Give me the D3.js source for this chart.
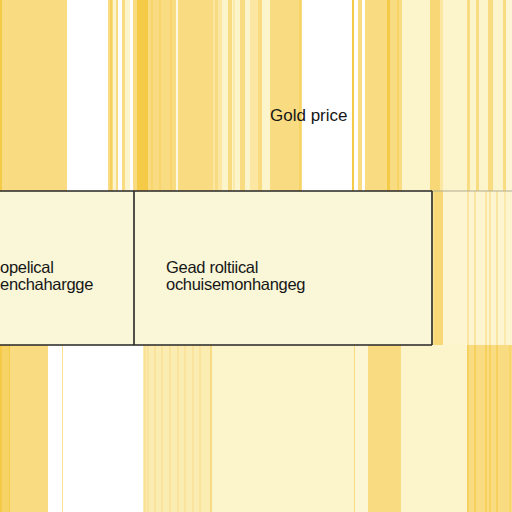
<!DOCTYPE html>
<html>
<head>
<meta charset="utf-8">
<script src="https://cdn.jsdelivr.net/npm/d3@7"></script>
<style>
  body { margin: 0; background: #fff; }
  svg { display: block; }
</style>
</head>
<body>
<div id="chart-area"></div>
<script>
const WIDTH = 512
const HEIGHT = 512
const BAND = { TOP: 191, BOTTOM: 345 }

// stripes: [fromDay, toDay, intensity]
const topStripes = [
  [0, 2, 4], [2, 67, 3], [67, 108, 0], [108, 113, 3], [113, 116, 1], [116, 118, 3],
  [118, 122, 0], [122, 125, 3], [125, 130, 1], [130, 133, 0], [133, 137, 3], [137, 148, 4],
  [148, 176, 3], [176, 178, 0.6], [178, 213, 3], [213, 215, 2], [215, 218, 3], [218, 222, 2],
  [222, 228, 1], [228, 232, 3], [232, 240, 1], [240, 245, 3], [245, 250, 1], [250, 258, 2],
  [258, 262, 3], [262, 270, 1], [270, 302, 3], [302, 352, 0], [352, 354, 4], [354, 358, 0],
  [358, 362, 3], [362, 365, 0], [365, 387, 3], [387, 390, 4], [390, 402, 3], [402, 430, 1],
  [430, 440, 3.2], [440, 443, 2], [443, 467, 1], [467, 470, 3], [470, 476, 1], [476, 479, 3],
  [479, 488, 1], [488, 493, 3], [493, 503, 1], [503, 506, 3], [506, 512, 0.8]
]
const topLines = [[111, 4], [152, 3.6], [160, 3.6], [171, 3.6], [234, 2.5], [300, 3.8], [398, 3.8]]

const rightStripes = [
  [432, 434, 2.5], [434, 443, 3.2], [443, 512, 0.9]
]
const rightLines = [[468, 3], [475, 3], [486, 3], [490, 3], [497, 3], [505, 2.5]]

const bottomStripes = [
  [0, 2, 4], [2, 9, 3.5], [9, 10, 4], [10, 48, 3], [48, 62, 0], [62, 63, 2.6], [63, 143, 0],
  [143, 212, 1.6], [212, 354, 1], [354, 355, 3], [355, 368, 0.8], [368, 401, 3],
  [401, 467, 1], [467, 512, 3]
]
const bottomLines = [
  [145, 3], [148, 2.6], [155, 2.6], [162, 2.6], [170, 2.6], [178, 2.6], [185, 2.6],
  [193, 2.6], [200, 2.6], [211, 3.6], [468, 4], [475, 4], [486, 4], [490, 4], [497, 4], [510, 3.6]
]

const boxEdges = [0, 134, 432]
const title = "Gold price"
const boxLabels = [
  ["opelical", "enchahargge"],
  ["Gead roltiical", "ochuisemonhangeg"]
]

const svg = d3.select("#chart-area").append("svg")
  .attr("width", WIDTH)
  .attr("height", HEIGHT)

const x = d3.scaleLinear().domain([0, 512]).range([0, WIDTH])
const color = d3.scaleLinear()
  .domain([0, 1, 2, 3, 4])
  .range(["#ffffff", "#fcf4cb", "#fbe7a2", "#f9dc82", "#f5ca47"])

function stripes(data, y0, y1) {
  svg.append("g").selectAll("rect")
    .data(data)
    .join("rect")
    .attr("x", d => x(d[0]))
    .attr("width", d => x(d[1]) - x(d[0]))
    .attr("y", y0)
    .attr("height", y1 - y0)
    .attr("fill", d => color(d[2]))
}

function lines(data, y0, y1) {
  svg.append("g").selectAll("line")
    .data(data)
    .join("line")
    .attr("x1", d => x(d[0]))
    .attr("x2", d => x(d[0]))
    .attr("y1", y0)
    .attr("y2", y1)
    .attr("stroke", d => color(d[1]))
    .attr("stroke-width", 1.2)
}

stripes(topStripes, 0, BAND.TOP)
lines(topLines, 0, BAND.TOP)
stripes(rightStripes, BAND.TOP, BAND.BOTTOM)
lines(rightLines, BAND.TOP, BAND.BOTTOM)
stripes(bottomStripes, BAND.BOTTOM, HEIGHT)
lines(bottomLines, BAND.BOTTOM, HEIGHT)

// boxes of the middle band
const boxes = d3.pairs(boxEdges)
svg.append("g").selectAll("rect")
  .data(boxes)
  .join("rect")
  .attr("x", d => x(d[0]))
  .attr("width", d => x(d[1]) - x(d[0]))
  .attr("y", BAND.TOP)
  .attr("height", BAND.BOTTOM - BAND.TOP)
  .attr("fill", "#faf6d8")

svg.append("line")
  .attr("x1", x(boxEdges[2])).attr("x2", WIDTH)
  .attr("y1", BAND.TOP).attr("y2", BAND.TOP)
  .attr("stroke", "#b0ab90").attr("stroke-width", 1)

svg.append("g").selectAll("line")
  .data([BAND.TOP, BAND.BOTTOM])
  .join("line")
  .attr("x1", 0).attr("x2", x(boxEdges[2]))
  .attr("y1", d => d).attr("y2", d => d)
  .attr("stroke", "#262626").attr("stroke-width", 1.6)

svg.append("g").selectAll("line")
  .data(boxEdges.slice(1))
  .join("line")
  .attr("x1", d => x(d)).attr("x2", d => x(d))
  .attr("y1", BAND.TOP).attr("y2", BAND.BOTTOM)
  .attr("stroke", "#262626").attr("stroke-width", 1.6)

// Title
svg.append("text")
  .attr("x", 270)
  .attr("y", 121)
  .attr("font-family", "Liberation Sans, Arial, sans-serif")
  .attr("font-size", "17px")
  .attr("fill", "#161616")
  .text(title)

const labelX = [0, 166]
boxLabels.forEach((lbl, i) => {
  const t = svg.append("text")
    .attr("font-family", "Liberation Sans, Arial, sans-serif")
    .attr("font-size", "16.5px")
    .attr("letter-spacing", "-0.3px")
    .attr("fill", "#161616")
  lbl.forEach((s, j) => {
    t.append("tspan")
      .attr("x", labelX[i])
      .attr("y", 273 + j * 17)
      .text(s)
  })
})
</script>
</body>
</html>
